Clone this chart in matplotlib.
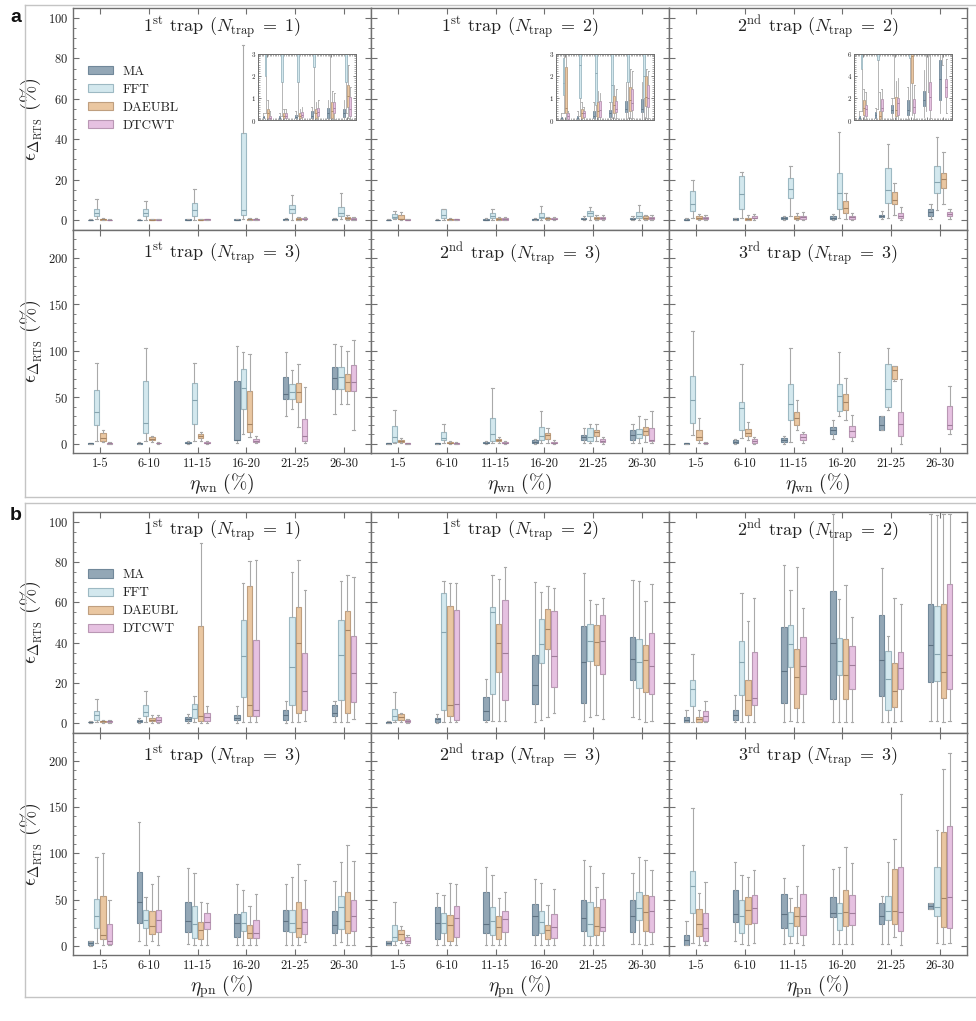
import matplotlib
matplotlib.use("Agg")
import matplotlib.pyplot as plt
from matplotlib.lines import Line2D
from matplotlib.patches import Patch
from matplotlib.ticker import MultipleLocator, FixedLocator

plt.rcParams['font.family'] = 'cmr10'
plt.rcParams['mathtext.fontset'] = 'cm'
plt.rcParams['axes.formatter.use_mathtext'] = True
plt.rcParams['axes.unicode_minus'] = False

# ---------------- data ----------------
categories = ["1-5", "6-10", "11-15", "16-20", "21-25", "26-30"]
methods = ["MA", "FFT", "DAEUBL", "DTCWT"]
# each entry: (whisker low, q1, median, q3, whisker high)

# (a) white noise, 1st trap, N_trap = 1
A_T1N1_MA = [(0,0.1,0.15,0.2,0.3),(0,0.05,0.1,0.2,0.3),(0,0.1,0.15,0.25,0.4),(0,0.1,0.2,0.4,0.6),(0,0.1,0.3,0.55,0.9),(0,0.15,0.3,0.5,0.9)]
A_T1N1_FFT = [(0.3,2.0,3.5,5.5,10.5),(0.2,1.7,3.6,5.5,9.4),(0.2,1.7,5.0,8.3,15.2),(0.3,2.4,5.0,43.0,86.6),(0.1,3.3,5.4,7.4,12.4),(0.3,1.7,3.3,6.6,13.5)]
A_T1N1_DAE = [(0,0.1,0.3,0.5,0.9),(0,0.1,0.2,0.3,0.5),(0,0.1,0.2,0.3,0.5),(0,0.1,0.3,0.5,0.8),(0,0.1,0.4,0.8,1.3),(0.1,0.6,1.1,1.6,2.5)]
A_T1N1_DTC = [(0,0.05,0.1,0.2,0.4),(0,0.1,0.2,0.3,0.5),(0,0.15,0.25,0.35,0.6),(0,0.2,0.35,0.55,0.9),(0.05,0.3,0.55,0.8,1.2),(0.05,0.2,0.5,1.05,1.5)]

# (a) 1st trap, N_trap = 2
A_T1N2_MA = [(0,0.05,0.1,0.15,0.3),(0,0.05,0.1,0.2,0.4),(0,0.1,0.2,0.4,0.8),(0,0.15,0.3,0.45,0.8),(0,0.35,0.5,0.85,1.7),(0,0.35,0.5,0.95,1.7)]
A_T1N2_FFT = [(0.3,1.15,1.65,2.8,4.6),(0.2,1.0,2.5,5.3,5.3),(0.2,0.7,2.1,3.6,5.3),(0.1,0.8,1.6,3.3,7.0),(0.1,1.7,3.3,4.6,6.3),(0.1,1.0,2.0,4.0,7.4)]
A_T1N2_DAE = [(0,0.3,0.55,2.4,4.0),(0,0.1,0.3,0.5,0.8),(0.05,0.15,0.4,0.8,1.3),(0.1,0.3,0.7,1.1,1.6),(0.1,0.4,0.9,1.5,2.3),(0.1,0.65,1.05,2.0,2.3)]
A_T1N2_DTC = [(0,0.05,0.2,0.3,0.4),(0,0.15,0.3,0.4,0.6),(0,0.15,0.45,0.85,1.2),(0.1,0.35,0.5,0.85,1.4),(0.1,0.45,0.75,1.4,2.2),(0.1,0.6,1.0,1.6,2.2)]

# (a) 2nd trap, N_trap = 2
A_T2N2_MA = [(0,0.1,0.2,0.4,0.8),(0,0.2,0.5,0.7,1.1),(0.1,0.6,0.9,1.4,2.0),(0.1,0.5,0.9,1.8,3.0),(0.3,1.3,1.8,2.6,4.5),(0.6,1.8,3.7,5.4,8.0)]
A_T2N2_FFT = [(0.8,4.6,7.9,14.4,19.8),(1.0,5.4,12.7,21.9,23.8),(2.0,10.7,15.3,21.0,26.7),(0.8,5.6,13.5,23.3,43.4),(0.8,8.3,14.9,25.6,37.6),(5.0,13.5,19.0,26.7,41.3)]
A_T2N2_DAE = [(0,0.5,1.1,1.8,2.8),(0,0.1,0.4,0.8,2.5),(0.1,0.4,0.9,2.1,3.5),(0.5,3.3,5.8,9.4,13.2),(2.5,7.9,9.9,13.9,18.5),(7.9,15.7,20.1,23.4,33.7)]
A_T2N2_DTC = [(0.1,0.4,1.0,1.4,2.5),(0.2,0.8,1.1,1.9,2.8),(0.1,0.5,1.5,2.0,3.8),(0.1,0.6,1.2,1.9,3.2),(0.2,0.9,2.1,3.4,6.5),(0.6,2.1,3.0,3.7,5.5)]

# (a) 1st trap, N_trap = 3
A_T1N3_MA = [(0,0.2,0.4,0.7,1.2),(0,0.2,0.4,0.8,1.5),(0,0.5,1.0,2.0,3.0),(0.5,3.6,4.3,67.4,105),(29.5,48.6,54,72,99),(31.7,58.4,71,82.9,107)]
A_T1N3_FFT = [(3,19.8,33.9,57.7,86.5),(3,11.9,22.3,67.4,102.7),(3,21.6,46.8,64.9,87.2),(10,37.8,59.5,80,99),(37,48.6,55.9,64,79),(42.5,58.4,72,82.9,105)]
A_T1N3_DAE = [(2,2.9,6.5,11.5,15),(2,4.3,5.4,7.2,8),(3,5.8,8,10,13),(7,12.6,21.6,56.2,97),(18,45,55.9,64.9,85.4),(42.5,56.6,66.7,74.6,100)]
A_T1N3_DTC = [(0,0.2,0.4,0.8,1.5),(0,0.3,0.6,1.0,1.8),(0,0.5,1,2,3),(0.5,1.4,2.9,5.4,8),(1,2.9,7.9,27,61),(15,56.6,66.7,85,111.7)]

# (a) 2nd trap, N_trap = 3
A_T2N3_MA = [(0,0.1,0.3,0.6,1.0),(0,0.1,0.3,0.6,1.0),(0,0.3,0.8,1.5,2.5),(0,1,2,3.6,5),(1,3.6,7.2,9.3,16.5),(0.5,3.6,9.3,15,21.5)]
A_T2N3_FFT = [(0.5,1.8,7.2,18.6,35.8),(0.5,3.6,6.5,12.2,20.8),(0.5,2.9,10.8,28,60.2),(0.5,3.6,7.9,18,35),(0.5,2.9,7.2,17.2,21.5),(0.5,6.5,10.8,15.8,30)]
A_T2N3_DAE = [(0.5,1.5,2.5,4,6),(0,0.5,1,2,3),(1,2.9,4,5,7),(1,5,9,11.5,17),(3,8.6,12.9,15,21.5),(2,9.3,13.6,18,26.5)]
A_T2N3_DTC = [(0,0.2,0.4,0.8,1.2),(0,0.2,0.5,0.9,1.5),(0,0.5,1,2,3),(0,0.5,1,2,3.5),(0,1.4,3.2,5,7),(0.5,2.9,4.3,16.5,35)]

# (a) 3rd trap, N_trap = 3
A_T3N3_MA = [(0,0.2,0.4,0.8,1.2),(0,1,2,3.6,5),(0,1.8,3.5,5.7,8),(5,10.8,15,18,25.8),(15,15,19.7,29.4,29.4),None]
A_T3N3_FFT = [(9,22.2,47.3,72.4,121),(6.5,15,38.4,44.4,85.3),(2,25.8,42.3,63.8,103),(29.4,35,51.2,64.5,98.6),(36,39.4,59,85.3,103),None]
A_T3N3_DAE = [(0.5,3.6,7.2,14.3,28),(4,7.9,11.8,15.8,23),(15,20.4,28,33.7,47),(25.8,36.6,44.8,53,71),(67,70,78.9,84,84),None]
A_T3N3_DTC = [(0,0.3,0.6,1.2,2),(0,1,2.5,5,7),(1,3.6,7,10,13),(3,7.2,13.6,18.6,30.5),(0,8.6,20.8,33.7,70),(10.8,15.8,19.7,40.5,61.6)]

# (b) pink noise, 1st trap, N_trap = 1
B_T1N1_MA = [(0,0.3,0.5,0.7,1.2),(0,0.3,0.8,1.65,2.5),(0,0.8,2,3,4.5),(0,1.3,2.5,4.1,8.3),(0,1.7,4.1,6.6,10.7),(0.5,3.3,5,9.1,10.7)]
B_T1N1_FFT = [(0.5,1.65,4.1,6.1,12),(0.5,3.3,5.5,9,16),(0.5,2.5,6.9,9.6,13.2),(0.5,12.9,33.4,51.2,69.8),(0.5,8.8,27.8,52.9,75.2),(0.5,11.6,33.9,51.2,70.7)]
B_T1N1_DAE = [(0,0.5,0.8,1.0,1.5),(0,0.8,1.6,2.5,4),(0,0.8,3.6,48.3,89.6),(0.5,3.3,8.8,68.1,80.5),(0.3,5,39.7,57.5,81),(0.3,5,46.3,55.9,73.5)]
B_T1N1_DTC = [(0,0.5,0.8,1.0,1.5),(0,0.7,1.6,2.8,4),(0,0.8,3,5,8.3),(0.5,3.3,6.3,41.3,81),(1,6.3,15.9,34.7,66.4),(2,10.2,24.8,43.3,72.7)]

# (b) 1st trap, N_trap = 2
B_T1N2_MA = [(0,0.2,0.4,0.7,1.2),(0,0.5,1.8,2.6,4.6),(0.5,1.7,5.9,12.9,21.9),(0.5,9.6,19.1,34,70.3),(1,10,30.2,48.2,74.4),(3,21.5,31.8,42.9,71)]
B_T1N2_FFT = [(0.3,1.3,3.3,6.8,15.3),(0.5,6.3,45.4,64.9,70.6),(1,14.2,55,57.9,73.6),(1.5,29.9,39.3,51.7,65.3),(3,31,41,49.5,61.2),(2,17.5,30.5,42,70.6)]
B_T1N2_DAE = [(0.3,1.3,3,4.6,5),(0.5,3.3,8.7,58.3,69.8),(1,25.2,39.6,49.2,71.5),(3,36.8,47,56.6,68.2),(4,28.9,40.1,48.8,59.4),(0.5,15.3,31.3,39,60.7)]
B_T1N2_DTC = [(0,0.5,1,1.5,2),(0.5,1.7,9.2,56.1,69.8),(1,11.2,34.8,61,77.7),(5,17.8,33.2,55.8,67),(2,24.4,41,53.8,62),(1,14.5,28.5,44.7,69)]

# (b) 2nd trap, N_trap = 2
B_T2N2_MA = [(0.3,0.5,1.7,3,6.6),(0.5,1.3,3.8,6.6,14),(0.5,9.9,26.1,47.9,78.4),(0.5,12,39.8,65.7,104),(0.5,13.4,31.4,53.6,76.9),(1,20.3,38.8,59.1,104)]
B_T2N2_FFT = [(0.5,8.4,16.7,21.5,34.3),(0.5,14,30.5,40.9,64.5),(1,27.7,39.3,48.8,66),(0.5,24.1,31,42.2,61.6),(0.5,6.6,21.9,35.6,43.4),(1,20.8,34.3,58.3,103.6)]
B_T2N2_DAE = [(0.3,0.5,1.8,3,6.6),(0.5,4.1,11.2,21.6,50.8),(0.5,7.6,23.1,36.8,77.6),(0.5,11.7,23.9,41.7,68.5),(0.5,7.9,15.7,29.9,62),(0.5,12.4,25.6,59.4,104)]
B_T2N2_DTC = [(0.5,0.8,3.3,5.9,10.9),(0.5,9.1,12.5,35.1,62),(0.5,14.5,28.5,42.6,57.1),(0.5,17,29,38.1,52.8),(1,17,27.4,35.1,59.1),(1,16.8,33.8,69,104)]

# (b) 1st trap, N_trap = 3
B_T1N3_MA = [(0,1.1,2.9,4.7,5),(4.7,24.5,47.8,79.5,133.5),(2,14.4,26.3,47.8,83.8),(1,9,24.5,34.5,66.5),(1,15.5,26.3,38.8,66.5),(1,13.7,22.7,37.8,70.5)]
B_T1N3_FFT = [(2.9,19.1,32.4,50.4,96.4),(1,19,28,38.8,52.5),(1,8.3,23.7,43.2,78.4),(1,15.5,24.5,36.3,60.4),(1,14.4,24.5,38.8,74),(4,18,41.4,54,91)]
B_T1N3_DAE = [(1,7.2,11.9,54,100),(4.7,13,20.9,37.8,67),(1,7.2,17.3,25.5,46.8),(1,8.3,13.7,22.7,43.5),(1,10,19,47.8,88.5),(1,13.7,27,57.6,109)]
B_T1N3_DTC = [(0.5,1.8,5.4,23.4,49.6),(1,14.4,28,38.8,75.9),(1,18,25.2,35.3,46),(1,8.3,13.7,28,56.1),(4,13,25.2,40,71.2),(1,15.5,32.4,49,92)]

# (b) 2nd trap, N_trap = 3
B_T2N3_MA = [(0.5,1.1,2.5,4.7,5),(1,7.2,24.5,42.4,56.8),(1,13.7,23.7,58.6,84.9),(1,11.9,32.4,45.3,72),(1,15.5,29.9,49.6,92.8),(2,14.4,32.4,49.6,79.1)]
B_T2N3_FFT = [(0.5,4.7,10,22.7,47.8),(1,13.7,24.5,35.3,55),(1,11.9,26.3,42.4,76.6),(1,13.7,25.2,38.1,68.3),(1,10.8,23.4,46.8,86.3),(2,28,40.6,57.6,95.7)]
B_T2N3_DAE = [(3,6.5,13,17.3,20.9),(1,4.7,22.7,33.5,67.6),(1,7.2,20.1,31.7,51.4),(1,7.2,17.3,21.9,44.2),(1,11.9,21.6,41.4,63.3),(1,15.5,37,55,92.8)]
B_T2N3_DTC = [(0.5,2.9,4.7,9.4,12),(1,10,29.9,43.2,67),(1,14.4,28.8,38.1,58.6),(1,8.3,20.1,34.2,61),(1,15.5,19.8,50.4,79.1),(2,14.4,38.1,54,82)]

# (b) 3rd trap, N_trap = 3
B_T3N3_MA = [(0.5,1.1,6.5,11.9,26.3),(5,25.2,34.5,60.4,91),(2,19,34.5,55.8,73),(2,30.6,35.3,52.5,82.7),(2,23.4,32.4,46,54),(40,40,43.2,46,46)]
B_T3N3_FFT = [(3,35.3,64.7,81.3,148.6),(2,13.7,32.4,49.6,76.6),(3,10.8,24.5,36,51.4),(2,16.5,35.3,46,85.6),(2,28,37.8,54,90.6),(3,31.7,42.4,84.9,125)]
B_T3N3_DAE = [(1,10.8,23.4,39.6,56.8),(1,23.4,38.8,52.5,74.8),(3,20.9,31.7,42.4,64.7),(2,21.6,37,60.4,106.5),(10,23.7,37.8,82.7,115),(2,20.1,51.4,123.4,190.6)]
B_T3N3_DTC = [(1,5.4,19,35.3,69.4),(3,24.5,40.6,55,82),(1,11.9,32.4,56,109),(2,21.9,35.3,55,89.2),(1,15.5,36.3,84.9,164),(3,19,53.2,129.9,208)]

TITLES_TOP = [r"$1^{\rm st}$ trap $(N_{\rm trap}\;=\;1)$", r"$1^{\rm st}$ trap $(N_{\rm trap}\;=\;2)$", r"$2^{\rm nd}$ trap $(N_{\rm trap}\;=\;2)$"]
TITLES_BOT = [r"$1^{\rm st}$ trap $(N_{\rm trap}\;=\;3)$", r"$2^{\rm nd}$ trap $(N_{\rm trap}\;=\;3)$", r"$3^{\rm rd}$ trap $(N_{\rm trap}\;=\;3)$"]

# ---------------- style ----------------
FACE = {"MA": "#93a7b6", "FFT": "#d3e8ee", "DAEUBL": "#eac7a1", "DTCWT": "#e6c1e1"}
EDGE = {"MA": "#71889a", "FFT": "#9db9c3", "DAEUBL": "#bf9f7f", "DTCWT": "#b997b4"}
MED = {"MA": "#5e7282", "FFT": "#86a5b0", "DAEUBL": "#a68463", "DTCWT": "#a07d9b"}
OFFS = [-0.195, -0.065, 0.065, 0.195]
BW = 0.11
WHIS_C = "#a9a9a9"
SPINE_C = "#6f6f6f"
TXT_C = "#222222"

W, H = 976, 1021
fig = plt.figure(figsize=(W / 100, H / 100), dpi=100)


def rect(x0, y0, x1, y1):
    return [x0 / W, 1 - y1 / H, (x1 - x0) / W, (y1 - y0) / H]


def draw_boxes(ax, series, lw=0.8):
    for mi, m in enumerate(methods):
        data = series[mi]
        stats, pos = [], []
        for ci, s in enumerate(data):
            if s is None:
                continue
            lo, q1, med, q3, hi = s
            stats.append(dict(whislo=lo, q1=q1, med=med, q3=q3, whishi=hi, fliers=[]))
            pos.append(ci + OFFS[mi])
        ax.bxp(stats, positions=pos, widths=BW, patch_artist=True, showfliers=False,
               manage_ticks=False,
               boxprops=dict(facecolor=FACE[m], edgecolor=EDGE[m], linewidth=lw),
               medianprops=dict(color=MED[m], linewidth=lw),
               whiskerprops=dict(color=WHIS_C, linewidth=lw),
               capprops=dict(color=WHIS_C, linewidth=lw),
               capwidths=BW * 0.45)


def style_axes(ax, ylim, majors, minor, ylabels, xlabels):
    ax.set_xlim(-0.55, 5.55)
    ax.set_ylim(*ylim)
    ax.set_yticks(majors)
    ax.yaxis.set_minor_locator(MultipleLocator(minor))
    ax.set_xticks(range(6))
    for sp in ax.spines.values():
        sp.set_color(SPINE_C)
        sp.set_linewidth(1.0)
    ax.tick_params(which="both", direction="in", top=True, right=True, color=SPINE_C,
                   labelsize=9, labelcolor=TXT_C)
    ax.tick_params(which="major", length=4, width=0.8)
    ax.tick_params(which="minor", length=2, width=0.6)
    if xlabels:
        ax.set_xticklabels(categories)
    else:
        ax.set_xticklabels([])
    if not ylabels:
        ax.set_yticklabels([])


sections = [
    dict(rows=(8, 230, 453), name="a",
         top=[[A_T1N1_MA, A_T1N1_FFT, A_T1N1_DAE, A_T1N1_DTC],
              [A_T1N2_MA, A_T1N2_FFT, A_T1N2_DAE, A_T1N2_DTC],
              [A_T2N2_MA, A_T2N2_FFT, A_T2N2_DAE, A_T2N2_DTC]],
         bot=[[A_T1N3_MA, A_T1N3_FFT, A_T1N3_DAE, A_T1N3_DTC],
              [A_T2N3_MA, A_T2N3_FFT, A_T2N3_DAE, A_T2N3_DTC],
              [A_T3N3_MA, A_T3N3_FFT, A_T3N3_DAE, A_T3N3_DTC]],
         xlabel=r"$\eta_{\rm wn}\ (\%)$", insets=[3, 3, 6], frame=(5, 497)),
    dict(rows=(512, 733, 955), name="b",
         top=[[B_T1N1_MA, B_T1N1_FFT, B_T1N1_DAE, B_T1N1_DTC],
              [B_T1N2_MA, B_T1N2_FFT, B_T1N2_DAE, B_T1N2_DTC],
              [B_T2N2_MA, B_T2N2_FFT, B_T2N2_DAE, B_T2N2_DTC]],
         bot=[[B_T1N3_MA, B_T1N3_FFT, B_T1N3_DAE, B_T1N3_DTC],
              [B_T2N3_MA, B_T2N3_FFT, B_T2N3_DAE, B_T2N3_DTC],
              [B_T3N3_MA, B_T3N3_FFT, B_T3N3_DAE, B_T3N3_DTC]],
         xlabel=r"$\eta_{\rm pn}\ (\%)$", insets=None, frame=(503, 997)),
]

COLS = [73, 371, 669, 967]
YLAB = r"$\epsilon_{\Delta_{\rm RTS}}\ (\%)$"
TOP_YTICKS = [0, 20, 40, 60, 80, 100]
BOT_YTICKS = [0, 50, 100, 150, 200]

for sec in sections:
    y0, y1, y2 = sec["rows"]
    for c in range(3):
        x0, x1 = COLS[c], COLS[c + 1]
        # top row
        ax = fig.add_axes(rect(x0, y0, x1, y1))
        draw_boxes(ax, sec["top"][c])
        style_axes(ax, (-5, 105), TOP_YTICKS, 5, c == 0, False)
        ax.text(0.5, 0.91, TITLES_TOP[c], transform=ax.transAxes, ha="center", va="center",
                fontsize=13, color=TXT_C)
        if c == 0:
            ax.set_ylabel(YLAB, fontsize=15, color=TXT_C, labelpad=2)
            handles = [Patch(facecolor=FACE[m], edgecolor=EDGE[m], linewidth=0.8) for m in methods]
            ax.legend(handles, methods, loc="upper left", bbox_to_anchor=(0.033, 0.765),
                      frameon=False, fontsize=9.5, handlelength=1.9, handleheight=0.6,
                      handletextpad=0.7, labelspacing=0.45, borderaxespad=0.0,
                      labelcolor=TXT_C)
        if sec["insets"]:
            top = sec["insets"][c]
            ia = ax.inset_axes([0.62, 0.495, 0.33, 0.30])
            draw_boxes(ia, sec["top"][c], lw=0.6)
            ia.set_xlim(-0.55, 5.55)
            ia.set_ylim(0, top)
            ia.set_yticks([0, 1, 2, 3] if top == 3 else [0, 2, 4, 6])
            step = 0.1 if top == 3 else 0.2
            ia.yaxis.set_minor_locator(FixedLocator([i * step for i in range(31)]))
            ia.set_xticks(range(6))
            ia.set_xticks([i * 0.1 - 0.5 for i in range(61)], minor=True)
            ia.set_xticklabels([])
            for sp in ia.spines.values():
                sp.set_color(SPINE_C)
                sp.set_linewidth(0.7)
            ia.tick_params(which="both", direction="in", top=True, right=True, color=SPINE_C,
                           labelsize=5, labelcolor=TXT_C, pad=1.2)
            ia.tick_params(which="major", length=2.5, width=0.6)
            ia.tick_params(which="minor", length=1.2, width=0.4)
        # bottom row
        ax = fig.add_axes(rect(x0, y1, x1, y2))
        draw_boxes(ax, sec["bot"][c])
        style_axes(ax, (-10, 230), BOT_YTICKS, 10, c == 0, True)
        ax.text(0.5, 0.89, TITLES_BOT[c], transform=ax.transAxes, ha="center", va="center",
                fontsize=13, color=TXT_C)
        ax.set_xlabel(sec["xlabel"], fontsize=14, color=TXT_C, labelpad=1)
        if c == 0:
            ax.set_ylabel(YLAB, fontsize=15, color=TXT_C, labelpad=2)

    # section frame
    ft, fb = sec["frame"]
    fc = "#c4c4c4"
    fig.add_artist(Line2D([25 / W, 25 / W], [1 - ft / H, 1 - fb / H], color=fc, lw=1.0))
    fig.add_artist(Line2D([25 / W, 1.0], [1 - ft / H, 1 - ft / H], color=fc, lw=1.0))
    fig.add_artist(Line2D([25 / W, 1.0], [1 - fb / H, 1 - fb / H], color=fc, lw=1.0))
    fig.text(10 / W, 1 - (ft + 12) / H, sec["name"], fontsize=14, fontweight="bold",
             family="Liberation Sans", ha="left", va="center", color="#111111")

fig.savefig("out.png", dpi=100)
